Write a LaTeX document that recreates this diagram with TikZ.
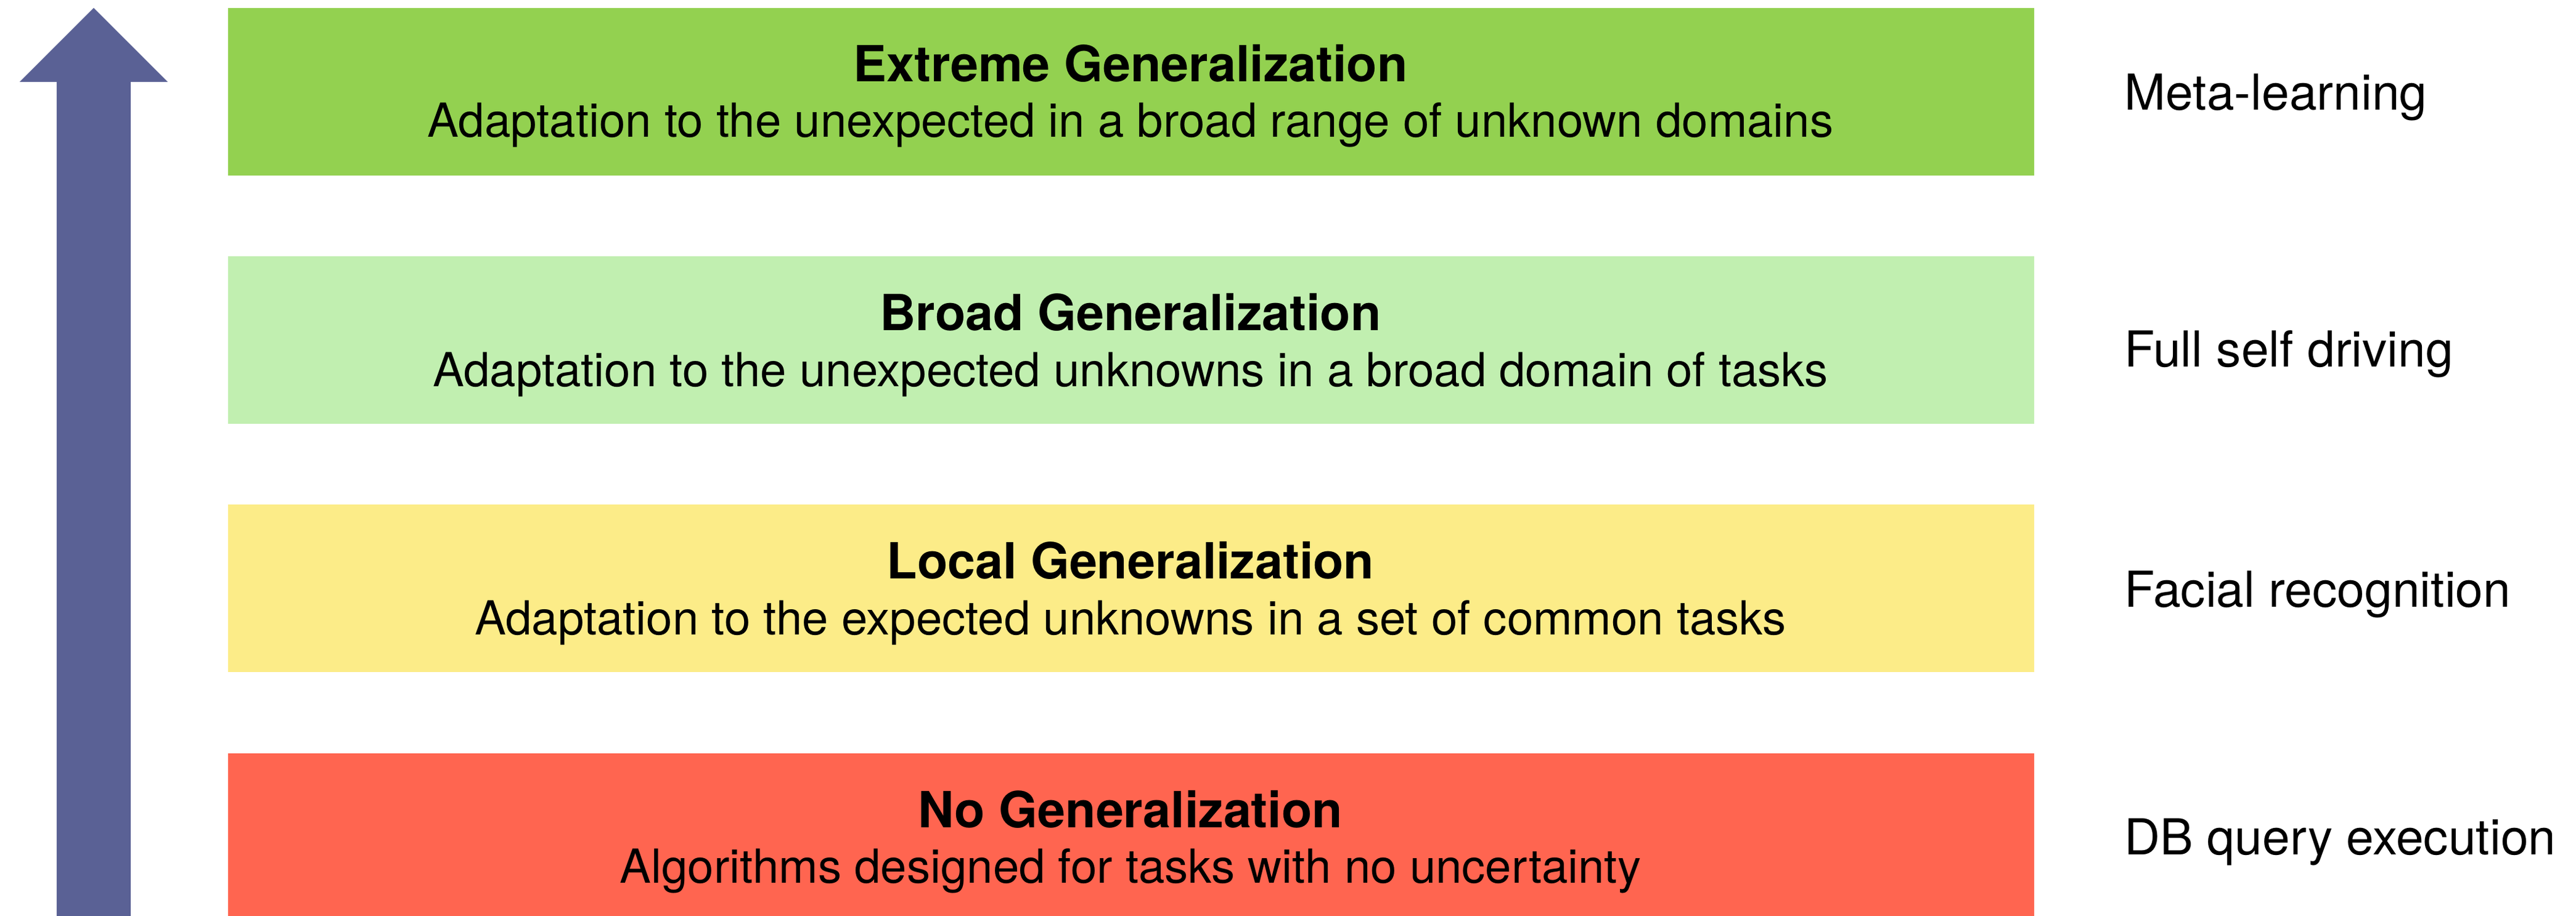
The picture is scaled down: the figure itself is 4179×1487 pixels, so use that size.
\documentclass[tikz,border=0pt]{standalone}
\usepackage{fontspec}
\setmainfont{TeX Gyre Heros}
\definecolor{arrowc}{HTML}{5A6195}
\definecolor{lvExtreme}{HTML}{93D150}
\definecolor{lvBroad}{HTML}{C1EFB0}
\definecolor{lvLocal}{HTML}{FCEC88}
\definecolor{lvNone}{HTML}{FF6550}
\begin{document}
\begin{tikzpicture}[x=0.25pt,y=-0.25pt,
  levelbox/.style={draw=none,minimum width=732.5pt,minimum height=68pt,inner sep=0pt,anchor=north west},
  titletext/.style={anchor=base,inner sep=0pt,font=\fontsize{20.2pt}{22pt}\selectfont\bfseries},
  subtext/.style={anchor=base,inner sep=0pt,font=\fontsize{19.05pt}{22pt}\selectfont},
  sidetext/.style={anchor=base west,inner sep=0pt,font=\fontsize{20.1pt}{24pt}\selectfont}]
\useasboundingbox (0,0) rectangle (4179,1487);
% arrow
\fill[arrowc] (152,13) -- (272,133) -- (212,133) -- (212,1487) -- (92,1487) -- (92,133) -- (32,133) -- cycle;
% boxes
\begin{scope}
\clip (0,0) rectangle (4179,1487);
\node[levelbox,fill=lvExtreme] (b1) at (369,12) {};
\node[levelbox,fill=lvBroad] (b2) at (369,415) {};
\node[levelbox,fill=lvLocal] (b3) at (369,818) {};
\node[levelbox,fill=lvNone] (b4) at (369,1222) {};
\end{scope}
% texts
\node[titletext] (t1) at (1834,133) {Extreme Generalization};
\node[subtext] (s1) at (1834,223) {Adaptation to the unexpected in a broad range of unknown domains};
\node[titletext] (t2) at (1834,536) {Broad Generalization};
\node[subtext] (s2) at (1834,627) {Adaptation to the unexpected unknowns in a broad domain of tasks};
\node[titletext] (t3) at (1834,939) {Local Generalization};
\node[subtext] (s3) at (1834,1030) {Adaptation to the expected unknowns in a set of common tasks};
\node[titletext] (t4) at (1834,1343) {No Generalization};
\node[subtext] (s4) at (1834,1433) {Algorithms designed for tasks with no uncertainty};
% side labels
\node[sidetext] (r1) at (3446,179) {Meta-learning};
\node[sidetext] (r2) at (3446,595) {Full self driving};
\node[sidetext] (r3) at (3446,985) {Facial recognition};
\node[sidetext] (r4) at (3446,1387) {DB query execution};
\end{tikzpicture}
\end{document}
